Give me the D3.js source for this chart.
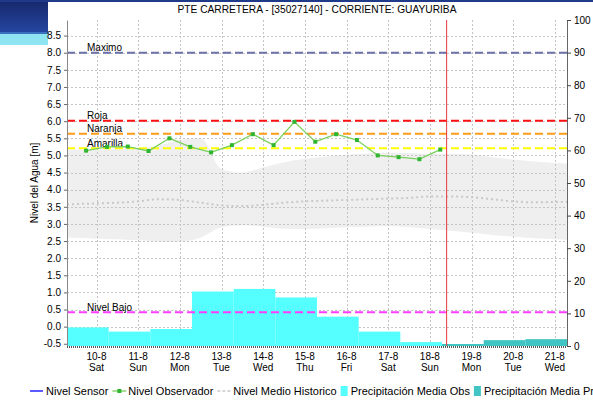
<!DOCTYPE html>
<html>
<head>
<meta charset="utf-8">
<script src="https://cdn.jsdelivr.net/npm/d3@7"></script>
<style>
  body { margin: 0; background: #fff; }
  svg { display: block; }
  text { font-family: "Liberation Sans", Arial, sans-serif; fill: #000; }
</style>
</head>
<body>
<svg id="chart" width="593" height="402"></svg>
<script>
// ---- data ---------------------------------------------------------------
const chartTitle = "PTE CARRETERA - [35027140] - CORRIENTE: GUAYURIBA";
const leftAxisTitle = "Nivel del Agua [m]";

const levelTicks = [-0.5, 0, 0.5, 1, 1.5, 2, 2.5, 3, 3.5, 4, 4.5, 5, 5.5, 6, 6.5, 7, 7.5, 8, 8.5];
const levelTickLabels = ["-0.5", "0.0", "0.5", "1.0", "1.5", "2.0", "2.5", "3.0", "3.5", "4.0",
                         "4.5", "5.0", "5.5", "6.0", "6.5", "7.0", "7.5", "8.0", "8.5"];
const rainTicks = [0, 10, 20, 30, 40, 50, 60, 70, 80, 90, 100];

const dayTicks = ["2019-08-10", "2019-08-11", "2019-08-12", "2019-08-13", "2019-08-14", "2019-08-15",
                  "2019-08-16", "2019-08-17", "2019-08-18", "2019-08-19", "2019-08-20", "2019-08-21"];

// Observer readings (06:00 and 18:00)
const obsTimes = ["2019-08-09 18:00", "2019-08-10 06:00", "2019-08-10 18:00", "2019-08-11 06:00",
                  "2019-08-11 18:00", "2019-08-12 06:00", "2019-08-12 18:00", "2019-08-13 06:00",
                  "2019-08-13 18:00", "2019-08-14 06:00", "2019-08-14 18:00", "2019-08-15 06:00",
                  "2019-08-15 18:00", "2019-08-16 06:00", "2019-08-16 18:00", "2019-08-17 06:00",
                  "2019-08-17 18:00", "2019-08-18 06:00"];
const obsLevels = [5.14, 5.25, 5.26, 5.13, 5.50, 5.25, 5.09, 5.30, 5.62, 5.30,
                   5.98, 5.40, 5.62, 5.45, 5.00, 4.95, 4.89, 5.17];

// Historic envelope and mean
const histTimes = ["2019-08-09 07:00", "2019-08-10 00:00", "2019-08-10 12:00", "2019-08-11 00:00",
                   "2019-08-11 12:00", "2019-08-12 00:00", "2019-08-12 12:00", "2019-08-13 00:00",
                   "2019-08-13 12:00", "2019-08-14 00:00", "2019-08-14 12:00", "2019-08-15 00:00",
                   "2019-08-15 12:00", "2019-08-16 00:00", "2019-08-16 12:00", "2019-08-17 00:00",
                   "2019-08-17 12:00", "2019-08-18 00:00", "2019-08-18 12:00", "2019-08-19 00:00",
                   "2019-08-19 12:00", "2019-08-20 00:00", "2019-08-20 12:00", "2019-08-21 00:00",
                   "2019-08-21 07:00"];
const histUpper = [5.17, 5.17, 5.18, 5.20, 5.30, 5.45, 5.50, 4.60, 4.50, 4.65, 4.80, 4.90, 4.97,
                   5.02, 5.06, 5.08, 5.07, 5.05, 5.05, 5.03, 4.95, 4.88, 4.82, 4.78, 4.76];
const histLower = [2.60, 2.57, 2.55, 2.52, 2.49, 2.48, 2.60, 2.90, 2.96, 2.92, 2.86, 2.85, 2.87,
                   2.90, 2.92, 2.93, 2.90, 2.85, 2.80, 2.74, 2.68, 2.63, 2.58, 2.55, 2.53];
const histMean  = [3.57, 3.60, 3.62, 3.66, 3.72, 3.70, 3.62, 3.54, 3.52, 3.56, 3.62, 3.66, 3.68,
                   3.70, 3.72, 3.74, 3.76, 3.80, 3.80, 3.78, 3.72, 3.66, 3.63, 3.64, 3.64];

// Daily rainfall (07:00 to 07:00), observed then forecast
const rainObsDays = ["2019-08-09", "2019-08-10", "2019-08-11", "2019-08-12", "2019-08-13",
                     "2019-08-14", "2019-08-15", "2019-08-16", "2019-08-17"];
const rainObs = [5.7, 4.4, 5.2, 16.7, 17.5, 14.9, 9.0, 4.4, 1.2];
const rainFcstDays = ["2019-08-18", "2019-08-19", "2019-08-20"];
const rainFcst = [0.6, 1.8, 2.1];

// Alert thresholds
const thresholdNames = ["Maximo", "Roja", "Naranja", "Amarilla", "Nivel Bajo"];
const thresholdLevels = [8.0, 6.01, 5.63, 5.21, 0.42];

const nowTime = "2019-08-18 09:40";

const legendNames = ["Nivel Sensor", "Nivel Observador", "Nivel Medio Historico",
                     "Precipitación Media Obs", "Precipitación Media Pronosticada"];

// ---- styles --------------------------------------------------------------
const thresholdColors = ["#6a72a8", "#ff1010", "#ff9a1a", "#ffff00", "#ff3cff"];
const colSensor = "#0000ff", colObsLine = "#7ad05a", colObsMark = "#2fb52f";
const colBand = "#efefef", colMean = "#c8c8c8", colGrid = "#c4c4c4";
const colRainObs = "#55ffff", colRainFcst = "#40c4c4", colNow = "#e8383c";

// ---- scales --------------------------------------------------------------
const parseT = d3.timeParse("%Y-%m-%d %H:%M");
const parseD = d3.timeParse("%Y-%m-%d");
const plot = { left: 67, right: 567, top: 20, bottom: 346 };

const x = d3.scaleTime()
  .domain([parseT("2019-08-09 07:00"), parseT("2019-08-21 07:00")])
  .range([plot.left, plot.right]);
const yL = d3.scaleLinear().domain([-0.565, 8.955]).range([plot.bottom, plot.top]);
const yR = d3.scaleLinear().domain([0, 100]).range([plot.bottom, plot.top]);

const svg = d3.select("#chart");

// page header strip
const defs = svg.append("defs");
const grad = defs.append("linearGradient").attr("id", "hdr").attr("x1", 0).attr("y1", 0).attr("x2", 0).attr("y2", 1);
grad.append("stop").attr("offset", "0%").attr("stop-color", "#17276a");
grad.append("stop").attr("offset", "100%").attr("stop-color", "#2446a0");
svg.append("rect").attr("x", 0).attr("y", 0).attr("width", 48).attr("height", 32).attr("fill", "url(#hdr)");
svg.append("rect").attr("x", 0).attr("y", 32).attr("width", 48).attr("height", 2).attr("fill", "#3a70c0");
svg.append("rect").attr("x", 0).attr("y", 34).attr("width", 48).attr("height", 11).attr("fill", "#8fe4f2");
svg.append("rect").attr("x", 0).attr("y", 0).attr("width", 593).attr("height", 2).attr("fill", "#1f3a88");

// title
svg.append("text").attr("x", (plot.left + plot.right) / 2).attr("y", 13)
  .attr("text-anchor", "middle").style("font-size", "10.2px").text(chartTitle);

// historic envelope
const hist = histTimes.map((t, i) => ({ t: parseT(t), hi: histUpper[i], lo: histLower[i], m: histMean[i] }));
svg.append("path").datum(hist)
  .attr("fill", colBand)
  .attr("d", d3.area().x(d => x(d.t)).y0(d => yL(d.lo)).y1(d => yL(d.hi)).curve(d3.curveMonotoneX));

// grid
const grid = svg.append("g").attr("stroke", colGrid).attr("stroke-dasharray", "2,2").attr("shape-rendering", "crispEdges");
grid.selectAll("line.h").data(levelTicks).join("line")
  .attr("x1", plot.left).attr("x2", plot.right)
  .attr("y1", d => Math.round(yL(d)) + 0.5).attr("y2", d => Math.round(yL(d)) + 0.5);
grid.selectAll("line.v").data(dayTicks).join("line")
  .attr("y1", plot.top).attr("y2", plot.bottom)
  .attr("x1", d => Math.round(x(parseD(d))) + 0.5).attr("x2", d => Math.round(x(parseD(d))) + 0.5);

// historic mean
svg.append("path").datum(hist)
  .attr("fill", "none").attr("stroke", colMean).attr("stroke-width", 2).attr("stroke-dasharray", "2,3")
  .attr("d", d3.line().x(d => x(d.t)).y(d => yL(d.m)).curve(d3.curveMonotoneX));

// rainfall bars (07:00 to 07:00)
function dayStart(d) { return d3.timeHour.offset(parseD(d), 7); }
function dayEnd(d) { return d3.timeHour.offset(parseD(d), 31); }
svg.append("g").selectAll("rect").data(rainObsDays).join("rect")
  .attr("x", d => x(dayStart(d))).attr("width", d => x(dayEnd(d)) - x(dayStart(d)))
  .attr("y", (d, i) => yR(rainObs[i])).attr("height", (d, i) => yR(0) - yR(rainObs[i]))
  .attr("fill", colRainObs);
svg.append("g").selectAll("rect").data(rainFcstDays).join("rect")
  .attr("x", d => x(dayStart(d))).attr("width", d => x(dayEnd(d)) - x(dayStart(d)))
  .attr("y", (d, i) => yR(rainFcst[i])).attr("height", (d, i) => yR(0) - yR(rainFcst[i]))
  .attr("fill", colRainFcst);

// thresholds
const th = svg.append("g");
thresholdNames.forEach((name, i) => {
  const yy = yL(thresholdLevels[i]);
  th.append("line").attr("x1", plot.left).attr("x2", plot.right).attr("y1", yy).attr("y2", yy)
    .attr("stroke", thresholdColors[i]).attr("stroke-width", 2).attr("stroke-dasharray", "8,4");
  th.append("text").attr("x", 87).attr("y", yy - 1.5).style("font-size", "10px").text(name);
});

// observer series
const obs = obsTimes.map((t, i) => ({ t: parseT(t), v: obsLevels[i] }));
svg.append("path").datum(obs).attr("fill", "none").attr("stroke", colObsLine).attr("stroke-width", 1.3)
  .attr("d", d3.line().x(d => x(d.t)).y(d => yL(d.v)));
svg.append("g").selectAll("rect").data(obs).join("rect")
  .attr("x", d => x(d.t) - 2).attr("y", d => yL(d.v) - 2).attr("width", 4).attr("height", 4)
  .attr("fill", colObsMark);

// current time marker
svg.append("line").attr("x1", x(parseT(nowTime))).attr("x2", x(parseT(nowTime)))
  .attr("y1", plot.top).attr("y2", plot.bottom).attr("stroke", colNow).attr("stroke-width", 1);

// left axis
const axL = svg.append("g").attr("transform", `translate(${plot.left},0)`)
  .call(d3.axisLeft(yL).tickValues(levelTicks).tickFormat((d, i) => levelTickLabels[i]).tickSize(3).tickSizeOuter(0));
axL.select(".domain").attr("stroke", "#888");
axL.selectAll(".tick line").attr("stroke", "#666");
axL.selectAll("text").style("font-size", "10px").style("font-family", "Liberation Sans, Arial, sans-serif").attr("fill", "#000");

// right axis
const axR = svg.append("g").attr("transform", `translate(${plot.right},0)`)
  .call(d3.axisRight(yR).tickValues(rainTicks).tickSize(4).tickSizeOuter(0));
axR.select(".domain").attr("stroke", "#666");
axR.selectAll(".tick line").attr("stroke", "#444");
axR.selectAll("text").style("font-size", "10px").style("font-family", "Liberation Sans, Arial, sans-serif").attr("fill", "#000");

// bottom axis: day and weekday labels
svg.append("line").attr("x1", plot.left).attr("x2", plot.right).attr("y1", plot.bottom + 1).attr("y2", plot.bottom + 1)
  .attr("stroke", "#555").attr("stroke-width", 2).attr("stroke-dasharray", "1,1");
const fmtDay = d3.timeFormat("%-d-%-m"), fmtWk = d3.timeFormat("%a");
const xl = svg.append("g");
dayTicks.forEach(d => {
  const dt = parseD(d), xx = x(dt);
  xl.append("text").attr("x", xx).attr("y", 359.5).attr("text-anchor", "middle").style("font-size", "10px").text(fmtDay(dt));
  xl.append("text").attr("x", xx).attr("y", 370.5).attr("text-anchor", "middle").style("font-size", "10px").text(fmtWk(dt));
});

// left axis title
svg.append("text").attr("transform", "translate(38,183) rotate(-90)").attr("text-anchor", "middle")
  .style("font-size", "10px").text(leftAxisTitle);

// legend (the last entry runs past the right edge of the page)
const lg = svg.append("g");
const ly = 391;
let lx = 30;
legendNames.forEach((name, i) => {
  if (i === 0) {
    lg.append("line").attr("x1", lx).attr("x2", lx + 13).attr("y1", ly).attr("y2", ly).attr("stroke", colSensor).attr("stroke-width", 1.3);
    lx += 16;
  } else if (i === 1) {
    lg.append("line").attr("x1", lx).attr("x2", lx + 14).attr("y1", ly).attr("y2", ly).attr("stroke", colObsLine).attr("stroke-width", 1.3);
    lg.append("rect").attr("x", lx + 5).attr("y", ly - 2).attr("width", 4).attr("height", 4).attr("fill", colObsMark);
    lx += 16;
  } else if (i === 2) {
    lg.append("line").attr("x1", lx).attr("x2", lx + 14).attr("y1", ly).attr("y2", ly).attr("stroke", colMean).attr("stroke-width", 1.5).attr("stroke-dasharray", "3,2");
    lx += 16;
  } else {
    lg.append("rect").attr("x", lx).attr("y", ly - 5).attr("width", 7).attr("height", 10).attr("fill", i === 3 ? colRainObs : colRainFcst);
    lx += 10;
  }
  const t = lg.append("text").attr("x", lx).attr("y", ly + 3.5).style("font-size", "11px").text(name);
  lx += t.node().getComputedTextLength() + 4;
});
</script>
</body>
</html>
